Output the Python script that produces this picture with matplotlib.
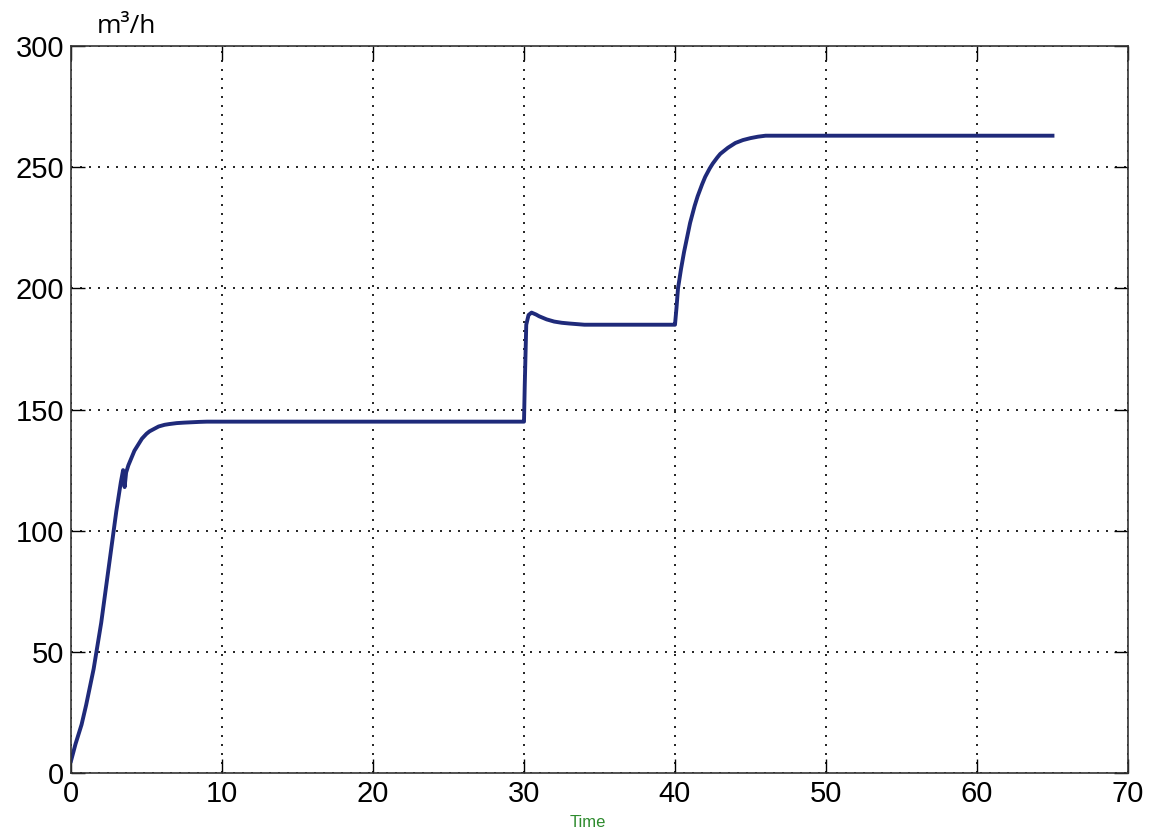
import matplotlib
matplotlib.use('Agg')
import matplotlib.pyplot as plt

# flow response
time = [0, 0.3, 0.7, 1.0, 1.5, 2.0, 2.5, 3.0, 3.3, 3.45, 3.55, 3.65, 3.8, 4.0, 4.2, 4.5, 4.7,
        5.0, 5.2, 5.5, 5.8, 6.2, 6.5, 7.0, 7.5, 8.5, 9, 12, 20, 29.9,
        30.0, 30.05, 30.15, 30.3, 30.5, 30.8, 31, 31.5, 32, 32.5, 33, 34, 39.9,
        40.0, 40.1, 40.2, 40.4, 40.6, 40.8, 41, 41.3, 41.5, 41.8, 42, 42.3, 42.5, 42.8,
        43, 43.5, 44, 44.5, 45, 45.5, 46, 47, 65]
flow = [5, 12, 20, 28, 43, 62, 85, 108, 120, 125, 118, 124, 127, 130, 133, 136, 138,
        140, 141, 142, 143, 143.7, 144, 144.4, 144.6, 144.9, 145, 145, 145, 145,
        145, 160, 185, 189, 190, 189.2, 188.5, 187.2, 186.3, 185.8, 185.5, 185, 185,
        185, 192, 200, 208, 215, 221, 227, 234, 238, 243, 246, 249.5, 251.5, 254,
        255.5, 258, 260, 261.2, 262, 262.6, 263, 263, 263]

xticks = [0, 10, 20, 30, 40, 50, 60, 70]
yticks = [0, 50, 100, 150, 200, 250, 300]

plt.rcParams['font.family'] = ['Liberation Sans', 'DejaVu Sans']

fig = plt.figure(figsize=(11.49, 8.34), dpi=100)
ax = fig.add_axes([0.0618, 0.0731, 0.9199, 0.8717])

ax.plot(time, flow, color='#1f2a7a', linewidth=2.8, solid_joinstyle='round')

ax.set_xlim(0, 70)
ax.set_ylim(0, 300)
ax.set_xticks(xticks)
ax.set_yticks(yticks)
ax.tick_params(direction='in', length=10, width=1, labelsize=21, pad=5,
               top=True, right=True)
ax.grid(True, linestyle=(0, (1.2, 4.2)), color='black', linewidth=1.2)
for s in ax.spines.values():
    s.set_color('#333333')
    s.set_linewidth(1.2)

fig.text(0.512, 0.008, 'Time', color='#2e8b2e', fontsize=12, ha='center')
fig.text(0.084, 0.96, 'm³/h', fontsize=19, family=['Open Sans', 'DejaVu Sans'])

fig.savefig('out.png', dpi=100)
